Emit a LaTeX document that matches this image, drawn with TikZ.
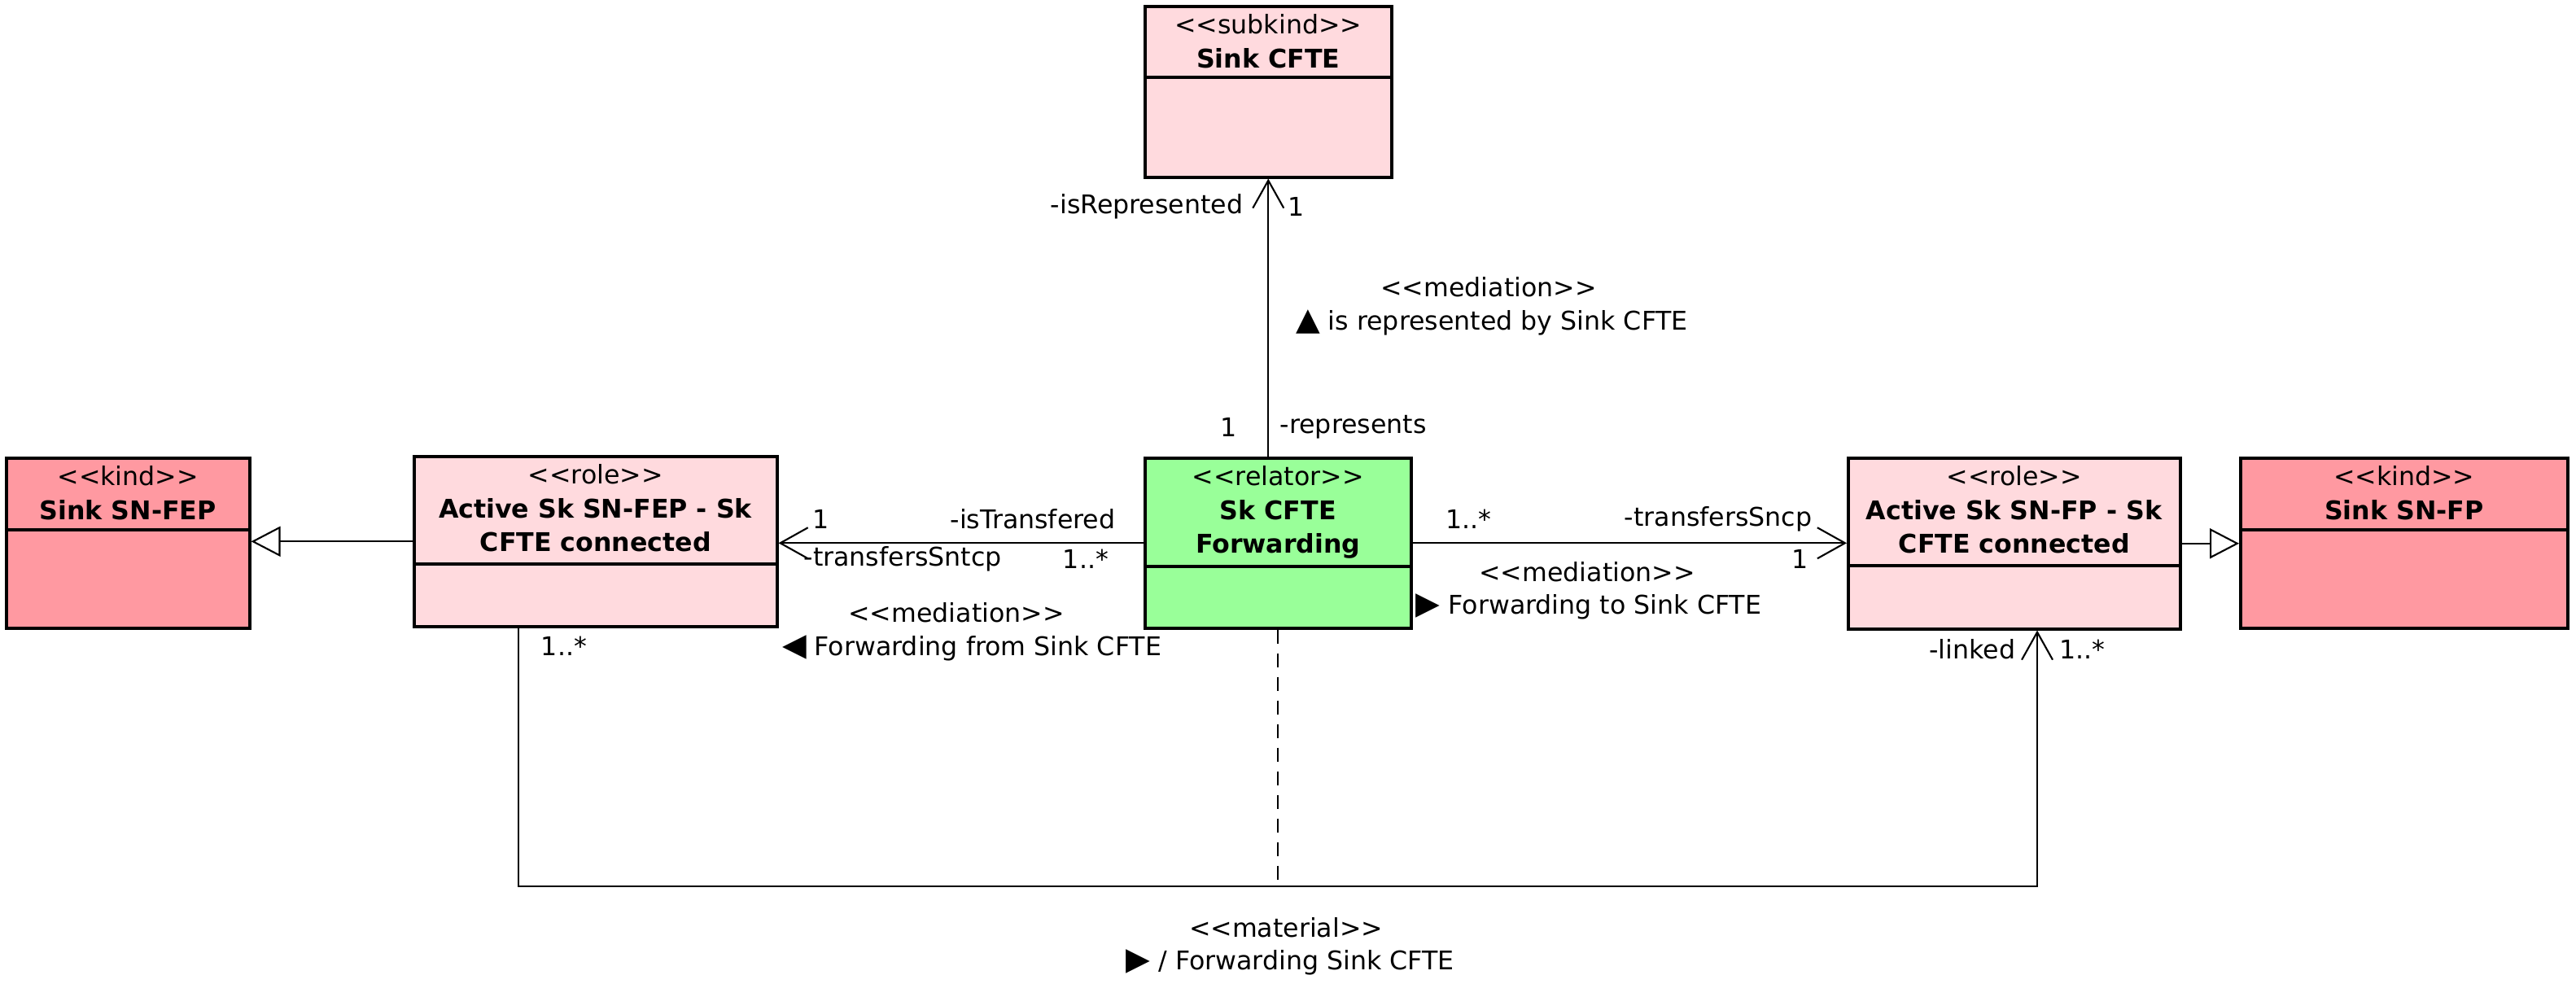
\documentclass[tikz,border=0pt]{standalone}
\usepackage{fontspec}
\setmainfont[Ligatures=TeXOff]{DejaVu Sans}
\usetikzlibrary{arrows.meta,positioning,calc}

\definecolor{kindred}{RGB}{255,153,161}
\definecolor{rolepink}{RGB}{255,218,222}
\definecolor{relgreen}{RGB}{153,255,153}

\newcommand{\tri}[1]{{\fontsize{11}{11}\selectfont #1}}

\tikzset{
  classbox/.style={draw, line width=1pt, anchor=north west, inner sep=0pt},
  kindbox/.style={classbox, fill=kindred},
  rolebox/.style={classbox, fill=rolepink},
  relbox/.style={classbox, fill=relgreen},
  divider/.style={line width=1pt},
  head/.style={align=center, inner sep=0pt, font=\fontsize{9}{11.8}\selectfont},
  lbl/.style={inner sep=0pt, font=\fontsize{9}{11}\selectfont},
  assoc/.style={line width=0.6pt, -{Straight Barb[length=3.4mm,width=3.8mm]}},
  gen/.style={line width=0.6pt, -{Triangle[open,length=3.6mm,width=3.7mm]}},
}

\begin{document}
\begin{tikzpicture}
  \useasboundingbox (0,0) rectangle (31.65,-12.24);

  % classes
  \node[kindbox, minimum width=2.99cm, minimum height=2.09cm] (snfep) at (0.06,-5.61) {};
  \node[rolebox, minimum width=4.46cm, minimum height=2.09cm] (actfep) at (5.07,-5.59) {};
  \node[relbox, minimum width=3.27cm, minimum height=2.09cm] (fwd) at (14.05,-5.61) {};
  \node[rolebox, minimum width=4.08cm, minimum height=2.10cm] (actfp) at (22.69,-5.61) {};
  \node[kindbox, minimum width=4.02cm, minimum height=2.09cm] (snfp) at (27.51,-5.61) {};
  \node[rolebox, minimum width=3.03cm, minimum height=2.10cm] (sink) at (14.05,-0.06) {};

  \draw[divider] ($(snfep.north west)+(0,-0.90)$) -- ($(snfep.north east)+(0,-0.90)$);
  \draw[divider] ($(actfep.north west)+(0,-1.34)$) -- ($(actfep.north east)+(0,-1.34)$);
  \draw[divider] ($(fwd.north west)+(0,-1.35)$) -- ($(fwd.north east)+(0,-1.35)$);
  \draw[divider] ($(actfp.north west)+(0,-1.34)$) -- ($(actfp.north east)+(0,-1.34)$);
  \draw[divider] ($(snfp.north west)+(0,-0.90)$) -- ($(snfp.north east)+(0,-0.90)$);
  \draw[divider] ($(sink.north west)+(0,-0.89)$) -- ($(sink.north east)+(0,-0.89)$);

  \begin{scope}[every node/.style={head, anchor=north}]
    \node[below=1.1mm of snfep.north] {<<kind>>\\\textbf{Sink SN-FEP}};
    \node[below=1.1mm of actfep.north] {<<role>>\\\textbf{Active Sk SN-FEP - Sk}\\\textbf{CFTE connected}};
    \node[below=1.1mm of fwd.north] {<<relator>>\\\textbf{Sk CFTE}\\\textbf{Forwarding}};
    \node[below=1.1mm of actfp.north] {<<role>>\\\textbf{Active Sk SN-FP - Sk}\\\textbf{CFTE connected}};
    \node[below=1.1mm of snfp.north] {<<kind>>\\\textbf{Sink SN-FP}};
    \node[below=1.1mm of sink.north] {<<subkind>>\\\textbf{Sink CFTE}};
  \end{scope}

  % generalisations
  \draw[gen] (actfep.west) -- (snfep.east |- actfep.west);
  \draw[gen] (actfp.east) -- (snfp.west |- actfp.east);

  % mediations
  \draw[assoc] (sink.south |- fwd.north) -- (sink.south);
  \draw[assoc] (fwd.west) -- (fwd.west -| actfep.east);
  \draw[assoc] (fwd.east) -- (fwd.east -| actfp.west);

  % material
  \coordinate (matL) at (6.37,-10.89);
  \coordinate (matR) at (25.03,-10.89);
  \draw[assoc] (actfep.south -| matL) -- (matL) -- (matR) -- (matR |- actfp.south);
  \draw[line width=0.6pt, dash pattern=on 0.17cm off 0.12cm] (fwd.south) -- (fwd.south |- matL);

  \begin{scope}[every node/.style={lbl}]
    \node[anchor=east] (isrep) at (15.28,-2.54) {-isRepresented};
    \node (m1) at (15.93,-2.54) {1};
    \node (medtop) at (18.29,-3.53) {<<mediation>>};
    \node (nametop) at (18.33,-3.96) {\tri{▲} is represented by Sink CFTE};
    \node (m2) at (15.10,-5.25) {1};
    \node[anchor=west] (reps) at (15.72,-5.25) {-represents};

    \node (m3) at (10.09,-6.38) {1};
    \node[anchor=east] (istr) at (13.71,-6.38) {-isTransfered};
    \node[anchor=west] (trsn) at (9.87,-6.87) {-transfersSntcp};
    \node (m4) at (13.34,-6.87) {1..*};
    \node (medleft) at (11.75,-7.53) {<<mediation>>};
    \node (nameleft) at (11.94,-7.96) {\tri{◀} Forwarding from Sink CFTE};

    \node (m5) at (18.04,-6.38) {1..*};
    \node (trsc) at (21.11,-6.38) {-transfersSncp};
    \node (m6) at (22.12,-6.87) {1};
    \node (medright) at (19.50,-7.03) {<<mediation>>};
    \node (nameright) at (19.52,-7.45) {\tri{▶} Forwarding to Sink CFTE};

    \node (m7) at (6.93,-7.94) {1..*};
    \node[anchor=east] (linked) at (24.77,-7.98) {-linked};
    \node (m8) at (25.58,-7.98) {1..*};
    \node (mat) at (15.80,-11.40) {<<material>>};
    \node (namemat) at (15.85,-11.82) {\tri{▶} / Forwarding Sink CFTE};
  \end{scope}

\end{tikzpicture}
\end{document}
